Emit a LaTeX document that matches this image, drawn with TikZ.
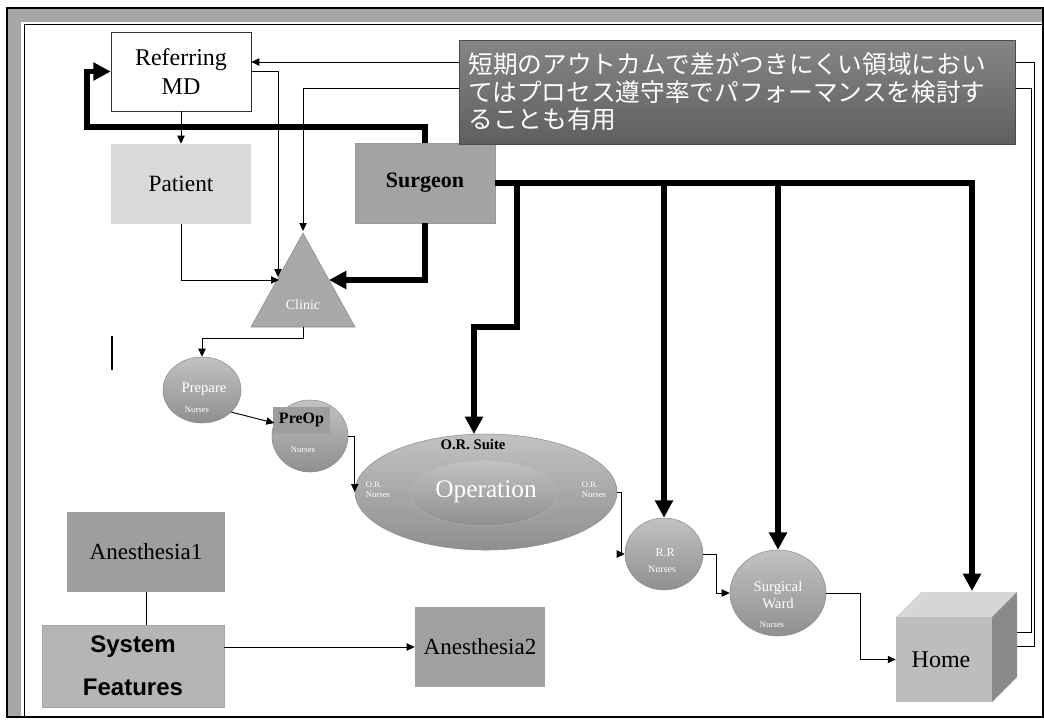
\documentclass[tikz,border=0pt]{standalone}
\usepackage{fontspec}
\setmainfont{Liberation Serif}
\newfontfamily\arialf{Liberation Sans}
\newfontfamily\jpfont{Noto Sans CJK JP}
\usetikzlibrary{arrows.meta,shapes.geometric,calc}
\definecolor{patientc}{HTML}{D9D9D9}
\definecolor{surgeonc}{HTML}{A3A3A3}
\definecolor{clinicc}{HTML}{A9A9A9}
\definecolor{notetop}{HTML}{858585}
\definecolor{notebot}{HTML}{5F5F5F}
\definecolor{anesAc}{HTML}{9E9E9E}
\definecolor{sysc}{HTML}{B5B5B5}
\definecolor{anesBc}{HTML}{A0A0A0}
\definecolor{bandc}{HTML}{A6A6A6}
\definecolor{balltop}{HTML}{C2C2C2}
\definecolor{ballbot}{HTML}{8F8F8F}
\definecolor{homefront}{HTML}{BDBDBD}
\definecolor{hometop}{HTML}{D6D6D6}
\definecolor{homeside}{HTML}{8A8A8A}
\begin{document}
\begin{tikzpicture}[x=0.75pt,y=-0.75pt,
  rectbox/.style={draw=black!80, line width=0.5pt, inner sep=0pt, align=center},
  flatbox/.style={inner sep=0pt, align=center},
  ballnode/.style={ellipse, inner sep=0pt, draw=black!45, line width=0.4pt, top color=balltop, bottom color=ballbot},
  thinarrow/.style={line width=0.7pt, -{Triangle[width=5.5pt,length=6pt]}},
  thinline/.style={line width=0.7pt},
  thickarrow/.style={line width=3.8pt, line join=miter, -{Triangle[width=13pt,length=13pt]}},
  thickline/.style={line width=3.8pt, line join=miter},
  wlabel/.style={text=white, inner sep=0pt, align=center},
]
\useasboundingbox (0,0) rectangle (1044,719);
\fill[white] (0,0) rectangle (1044,719);
% frame
\fill[bandc] (8,9) rectangle (1042,22);
\fill[bandc] (8,9) rectangle (21,716);
\draw[line width=1.5pt] (7,8) rectangle (1043,717);
\draw[line width=0.6pt] (24,717) -- (24,24) -- (1043,24);

% helper coordinates
\coordinate (yA) at (0,62);
\coordinate (homeA) at (1017,632);
\coordinate (homeB) at (1017,646);
\coordinate (clinTop) at (303,231);
\coordinate (clinL1) at (278,277);
\coordinate (clinL2) at (279,280);
\coordinate (clinR) at (329,280);
\coordinate (clinBot) at (303,327);
\coordinate (orTop) at (474,434);
\coordinate (homeTop) at (972,591);

% nodes
\node[rectbox, fill=white, minimum width=105pt, minimum height=59.25pt,
      font=\fontsize{18}{22}\selectfont] (rmd) at (181,71.5) {Referring\\MD};
\node[flatbox, fill=patientc, minimum width=105pt, minimum height=60pt,
      font=\fontsize{17.5}{21}\selectfont] (patient) at (181,184) {Patient};
\node[rectbox, draw=black!40, fill=surgeonc, minimum width=105pt, minimum height=60pt,
      font=\fontsize{16.5}{19}\selectfont\bfseries] (surgeon) at (425,183) {Surgeon};

% lines from Home (behind note)
\draw[thinarrow] (homeA) -- (1031,632) -- (1031,88) -- (303,88) -- (clinTop);
\draw[thinarrow] (homeB) -- (1034,646) -- (1034,62) -- (rmd.east |- yA);

% note box
\node[draw=black!70, line width=0.5pt, top color=notetop, bottom color=notebot,
      minimum width=417pt, minimum height=78pt, inner xsep=7pt, inner ysep=0pt,
      text width=403pt, align=left, text=white,
      font=\jpfont\fontsize{18.5}{20.6}\selectfont] (note) at (737,92)
  {短期のアウトカムで差がつきにくい領域におい\\てはプロセス遵守率でパフォーマンスを検討す\\ることも有用};

% clinic triangle
\fill[clinicc, draw=black!45, line width=0.4pt] (303,233) -- (355,327) -- (251,327) -- cycle;
\node[wlabel, font=\fontsize{10.5}{12}\selectfont] (clinic) at (303,305) {Clinic};

% ellipses
\node[ballnode, minimum width=58.5pt, minimum height=49.5pt] (prepare) at (202,390) {};
\node[wlabel, font=\fontsize{11}{12}\selectfont] (prepareT) at (204,389) {Prepare};
\node[wlabel, font=\fontsize{6.5}{7}\selectfont] (prepareN) at (197,410) {Nurses};

\node[ballnode, minimum width=57pt, minimum height=54pt] (preop) at (310,436) {};
\node[flatbox, fill=black!38, minimum width=43pt, minimum height=20pt] (preopR) at (301.5,420.5) {};
\node[inner sep=0pt, font=\fontsize{12}{13}\selectfont\bfseries] (preopT) at (301.5,420) {PreOp};
\node[wlabel, font=\fontsize{6.5}{7}\selectfont] (preopN) at (303,450) {Nurses};

\node[ballnode, minimum width=196.5pt, minimum height=87pt] (orsuite) at (486,492) {};
\node[ballnode, draw=white!70!black, minimum width=111pt, minimum height=49.5pt] (operation) at (484,493) {};
\node[inner sep=0pt, font=\fontsize{11}{12}\selectfont\bfseries] (orsuiteT) at (473,445) {O.R. Suite};
\node[wlabel, font=\fontsize{19}{21}\selectfont] (operationT) at (486,492) {Operation};
\node[wlabel, align=left, font=\fontsize{6.5}{7.5}\selectfont] (ornA) at (378,490) {O.R.\\Nurses};
\node[wlabel, align=left, font=\fontsize{6.5}{7.5}\selectfont] (ornB) at (594,490) {O.R.\\Nurses};

\node[ballnode, minimum width=58.5pt, minimum height=54pt] (rr) at (664,554) {};
\node[wlabel, font=\fontsize{9}{10}\selectfont] (rrT) at (665,553) {R.R};
\node[wlabel, font=\fontsize{7.5}{8}\selectfont] (rrN) at (662,569) {Nurses};

\node[ballnode, minimum width=72pt, minimum height=64.5pt] (ward) at (778,593) {};
\node[wlabel, font=\fontsize{11}{13}\selectfont] (wardT) at (778,595) {Surgical\\Ward};
\node[wlabel, font=\fontsize{6.5}{7}\selectfont] (wardN) at (772,625) {Nurses};

% home cube
\fill[hometop] (896,617) -- (921,592) -- (1017,592) -- (992,617) -- cycle;
\fill[homeside] (992,617) -- (1017,592) -- (1017,677) -- (992,702) -- cycle;
\node[flatbox, fill=homefront, minimum width=72pt, minimum height=63.75pt] (home) at (944,659.5) {};
\node[inner sep=0pt, font=\fontsize{18}{20}\selectfont] (homeT) at (941,660) {Home};

% bottom-left boxes
\node[flatbox, fill=anesAc, minimum width=118.5pt, minimum height=60pt,
      font=\fontsize{17.3}{20}\selectfont] (anesA) at (146,552) {Anesthesia1};
\node[flatbox, draw=black!35, line width=0.4pt, fill=sysc, minimum width=136.5pt, minimum height=61.5pt,
      font=\arialf\bfseries\fontsize{18}{32}\selectfont] (sysf) at (133,666) {System\\Features};
\node[flatbox, fill=anesBc, minimum width=97.5pt, minimum height=60pt,
      font=\fontsize{17.3}{20}\selectfont] (anesB) at (480,647) {Anesthesia2};

% thin connectors
\draw[thinarrow] (rmd.south) -- (patient.north);
\draw[thinarrow] (rmd.east) -| (clinL1);
\draw[thinarrow] (patient.south) |- (clinL2);
\draw[thinarrow] (clinBot) -- (303,338) -| (prepare.north);
\draw[thinarrow] (prepare.-37) -- (preop.160);
\draw[thinarrow] (preop.east) -| (orsuite.west);
\draw[thinarrow] (orsuite.east) -- ++(4,0) |- (rr.west);
\draw[thinarrow] (rr.east) -- ++(13,0) |- (ward.west);
\draw[thinarrow] (ward.east) -- ++(34,0) |- (home.west);
\draw[thinline] (anesA.south) -- (anesA.south |- sysf.north);
\draw[thinarrow] (sysf.east |- anesB.west) -- (anesB.west);
\draw[line width=1pt] (112,336) -- (112,370);

% thick connectors
\draw[thickarrow] (surgeon.south) |- (clinR);
\draw[thickarrow] (surgeon.north) -- (425,127) -- (87,127) -- (87,71.5) -- (rmd.west);
\draw[thickarrow] (surgeon.east) -- (972,183) -- (homeTop);
\draw[thickarrow] (517,183) -- (517,327) -- (474,327) -- (orTop);
\draw[thickarrow] (664,183) -- (rr.north);
\draw[thickarrow] (778,183) -- (ward.north);
\end{tikzpicture}
\end{document}
